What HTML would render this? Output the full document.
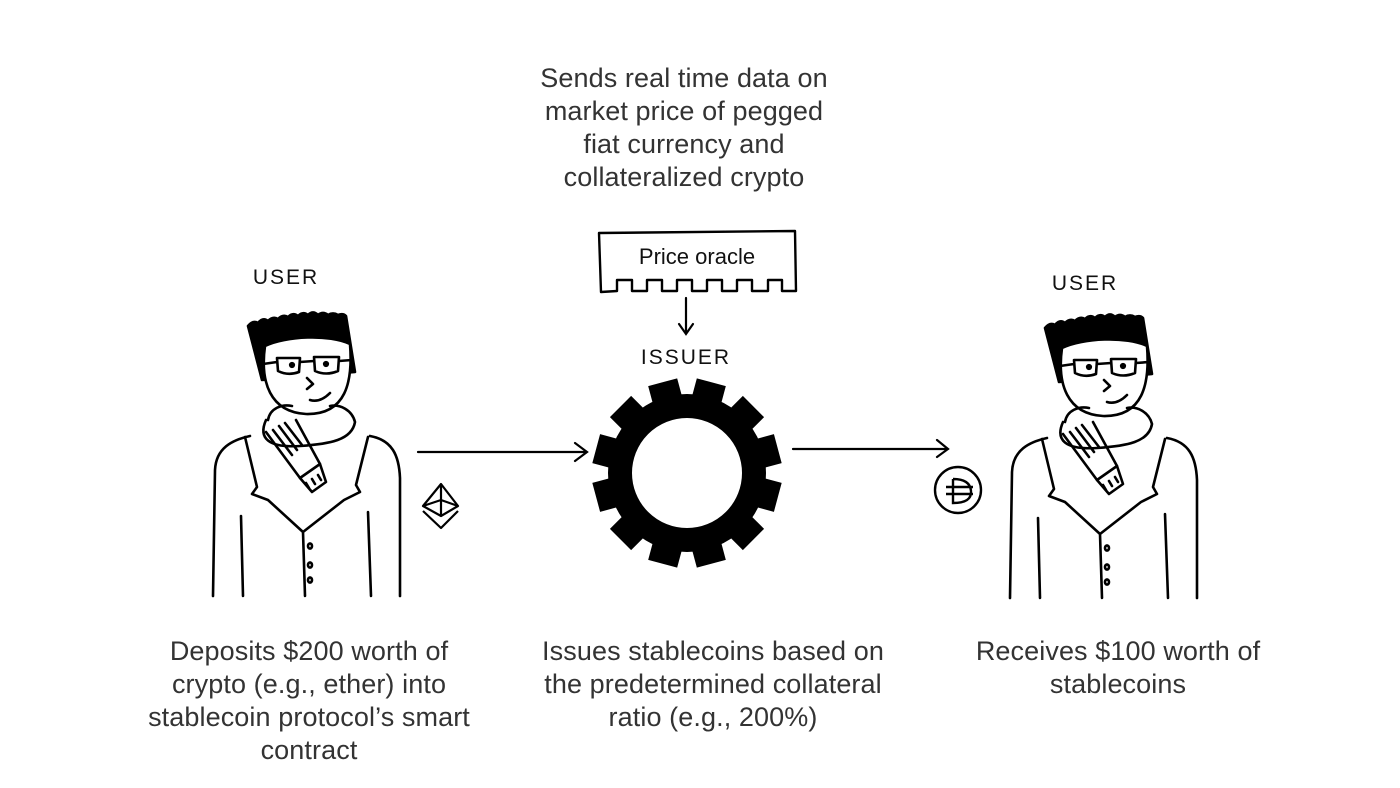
<!DOCTYPE html>
<html><head><meta charset="utf-8"><style>
html,body{margin:0;padding:0;background:#fff;}
body{width:1400px;height:788px;position:relative;overflow:hidden;font-family:"Liberation Sans",sans-serif;}
.t{position:absolute;text-align:center;font-size:27px;line-height:33px;color:#333;font-weight:300;letter-spacing:0.1px}
.h{font-family:"Liberation Sans",sans-serif;font-size:21px;letter-spacing:2px;fill:#111}
</style></head><body>
<svg width="1400" height="788" style="position:absolute;left:0;top:0">
<defs>
<g id="person" fill="none" stroke="#000" stroke-width="2.6" stroke-linecap="round" stroke-linejoin="round">
  <path d="M248,326 q5,-6 10,-3 q5,-6 10,-2 q5,-5 10,-2 q5,-5 10,-2 q5,-5 10,-1 q5,-5 10,-1 q5,-5 10,0 q5,-4 10,0 q5,-3 10,0 q5,-2 8,1 L355,372 L262,380 Z" fill="#000"/>
  <path d="M265,346 C260,382 270,412 306,414 C346,415 353,382 350,344 C330,334 285,336 265,346 Z" fill="#fff"/>
  <path d="M277,358 L300,358 L299,372 Q288,376 278,371 Z M314,357 L339,357 L338,371 Q326,376 315,371 Z M300,362 L314,361 M277,362 L263,364 M339,361 L352,360"/>
  <circle cx="292" cy="365" r="1.8" fill="#000"/><circle cx="326" cy="364" r="1.8" fill="#000"/>
  <path d="M307,378 l6,6 l-6,5 M310,400 q10,3 20,-7"/>
  <path d="M213,596 L215,470 C216,448 232,440 250,436 M370,436 C392,440 399,455 400,478 L400,596"/>
  <path d="M245,437 L257,487 L252,494 L268,500 L303,532 L305,596 M368,437 L356,485 L360,492 L344,500 L303,532"/>
  <path d="M241,516 L243,596 M368,512 L371,596"/>
  <path d="M266,420 C258,438 268,448 300,446 C330,444 352,440 355,422 C352,410 340,404 330,406 M268,420 C270,408 282,404 292,406"/>
  <path d="M266,432 L300,478 L320,464 L296,420 M273,430 L292,455 M279,426 L297,450 M285,423 L302,445"/>
  <path d="M300,478 L312,492 L326,482 L320,464 M309,488 l-3,-5 M315,484 l-3,-5 M321,480 l-3,-5"/>
  <ellipse cx="310" cy="546" rx="2" ry="2.6"/><ellipse cx="310" cy="565" rx="2" ry="2.6"/><ellipse cx="310" cy="580" rx="2" ry="2.6"/>
</g>
<rect id="tt" x="-15" y="-94" width="30" height="30"/>
</defs>
<use href="#person"/>
<use href="#person" transform="translate(797,2)"/>
<text class="h" x="286" y="284" text-anchor="middle">USER</text>
<text class="h" x="1085" y="290" text-anchor="middle">USER</text>
<text class="h" x="686" y="364" text-anchor="middle">ISSUER</text>
<path d="M599,233 L795,231 L796,291 L782,291 L782,280 L768,280 L768,291 L752,291 L752,280 L737,280 L737,291 L722,291 L722,280 L707,280 L707,291 L692,291 L692,280 L677,280 L677,291 L662,291 L662,280 L647,280 L647,291 L632,291 L632,280 L617,280 L617,291 L601,292 Z" fill="none" stroke="#000" stroke-width="2.4" stroke-linejoin="round"/>
<text x="697" y="264" text-anchor="middle" style="font-size:22px;fill:#111">Price oracle</text>
<path d="M686,298 L686,333 M679,324 L686,334 L693,324" fill="none" stroke="#000" stroke-width="2.2" stroke-linecap="round"/>
<path d="M418,452 L587,452 M575,443 L587,452 L575,461" fill="none" stroke="#000" stroke-width="2.2" stroke-linecap="round"/>
<path d="M793,449 L948,449 M937,440 L948,449 L937,457" fill="none" stroke="#000" stroke-width="2.2" stroke-linecap="round"/>
<g fill="none" stroke="#000" stroke-width="2.2" stroke-linejoin="round">
<path d="M441,484 L458,506 L441,516 L423,506 Z M441,484 L441,516 M423,506 L441,500 L458,506"/>
<path d="M423,511 L441,528 L458,511"/>
</g>
<circle cx="958" cy="490" r="23" fill="none" stroke="#000" stroke-width="2.4"/>
<path d="M953,479 L953,503 Q972,503 971,491 Q970,479 953,479 M946,487 L973,487 M946,494 L973,494" fill="none" stroke="#000" stroke-width="2.4"/>
<g transform="translate(687,473)" fill="#000">
<use href="#tt" transform="rotate(15)"/><use href="#tt" transform="rotate(45)"/>
<use href="#tt" transform="rotate(75)"/><use href="#tt" transform="rotate(105)"/>
<use href="#tt" transform="rotate(135)"/><use href="#tt" transform="rotate(165)"/>
<use href="#tt" transform="rotate(195)"/><use href="#tt" transform="rotate(225)"/>
<use href="#tt" transform="rotate(255)"/><use href="#tt" transform="rotate(285)"/>
<use href="#tt" transform="rotate(315)"/><use href="#tt" transform="rotate(345)"/>
<circle r="67" fill="none" stroke="#000" stroke-width="24"/>
</g>
</svg>
<div class="t" style="left:484px;top:62px;width:400px">Sends real time data on<br>market price of pegged<br>fiat currency and<br>collateralized crypto</div>
<div class="t" style="left:109px;top:635px;width:400px">Deposits $200 worth of<br>crypto (e.g., ether) into<br>stablecoin protocol’s smart<br>contract</div>
<div class="t" style="left:513px;top:635px;width:400px">Issues stablecoins based on<br>the predetermined collateral<br>ratio (e.g., 200%)</div>
<div class="t" style="left:918px;top:635px;width:400px">Receives $100 worth of<br>stablecoins</div>
</body></html>
